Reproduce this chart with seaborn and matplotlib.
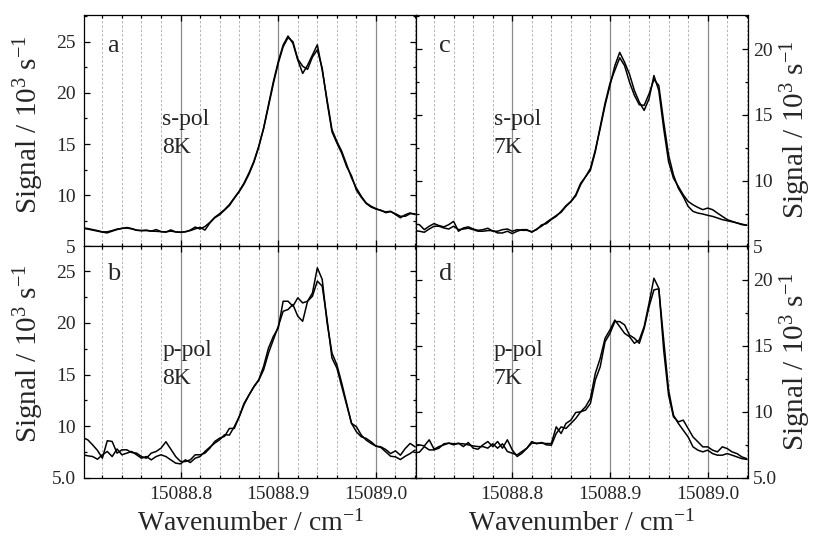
import numpy as np
import pandas as pd
import matplotlib
matplotlib.use("Agg")
import matplotlib.pyplot as plt
from matplotlib.ticker import MultipleLocator
import seaborn as sns

# wavenumber grid (cm-1)
wavenumber = [
    15088.700, 15088.705, 15088.710, 15088.715, 15088.720, 15088.725, 15088.730,
    15088.735, 15088.740, 15088.745, 15088.750, 15088.755, 15088.760, 15088.765,
    15088.770, 15088.775, 15088.780, 15088.785, 15088.790, 15088.795, 15088.800,
    15088.805, 15088.810, 15088.815, 15088.820, 15088.825, 15088.830, 15088.835,
    15088.840, 15088.845, 15088.850, 15088.855, 15088.860, 15088.865, 15088.870,
    15088.875, 15088.880, 15088.885, 15088.890, 15088.895, 15088.900, 15088.905,
    15088.910, 15088.915, 15088.920, 15088.925, 15088.930, 15088.935, 15088.940,
    15088.945, 15088.950, 15088.955, 15088.960, 15088.965, 15088.970, 15088.975,
    15088.980, 15088.985, 15088.990, 15088.995, 15089.000, 15089.005, 15089.010,
    15089.015, 15089.020, 15089.025, 15089.030, 15089.035, 15089.040,
]

# panel a: s-pol, 8K
a_scan1 = [6.82, 6.75, 6.65, 6.55, 6.43, 6.43, 6.55, 6.70, 6.75, 6.85, 6.75, 6.60, 6.55, 6.60,
           6.50, 6.65, 6.45, 6.43, 6.50, 6.43, 6.40, 6.43, 6.60, 6.90, 6.70, 6.95, 7.35, 7.85,
           8.20, 8.60, 9.10, 9.75, 10.40, 11.20, 12.18, 13.30, 14.77, 16.56, 18.83, 21.10, 23.05,
           24.67, 25.55, 24.84, 23.20, 21.90, 22.70, 23.70, 24.70, 22.20, 19.30, 16.40, 15.26,
           14.29, 13.00, 11.70, 10.70, 9.90, 9.25, 8.93, 8.70, 8.50, 8.38, 8.44, 8.12, 7.80,
           8.10, 8.28, 8.12]
a_scan2 = [6.78, 6.70, 6.60, 6.50, 6.40, 6.33, 6.50, 6.65, 6.78, 6.80, 6.72, 6.58, 6.55, 6.55,
           6.50, 6.48, 6.45, 6.40, 6.62, 6.42, 6.38, 6.45, 6.55, 6.72, 6.88, 6.60, 7.30, 7.80,
           8.10, 8.55, 9.00, 9.70, 10.35, 11.10, 12.05, 13.20, 14.70, 16.50, 18.70, 20.90, 22.90,
           24.50, 25.40, 25.00, 23.30, 22.60, 22.30, 23.50, 24.20, 22.40, 19.10, 16.20, 15.10,
           14.10, 12.80, 11.90, 10.50, 9.80, 9.20, 8.85, 8.65, 8.55, 8.30, 8.40, 8.20, 7.95,
           7.95, 8.20, 8.20]

# panel b: p-pol, 8K
b_scan1 = [8.90, 8.69, 8.20, 7.66, 6.91, 8.60, 8.53, 7.40, 7.72, 7.72, 7.46, 7.40, 7.07, 6.91,
           7.40, 7.56, 7.88, 8.50, 7.79, 7.07, 6.59, 6.59, 6.75, 7.24, 7.24, 7.40, 7.88, 8.53,
           8.85, 9.02, 9.79, 9.79, 10.93, 12.22, 13.03, 13.84, 14.49, 15.79, 17.57, 18.70, 19.51,
           22.10, 22.10, 21.62, 22.43, 21.94, 22.10, 22.90, 25.34, 24.21, 20.00, 17.08, 15.95,
           14.17, 12.22, 10.28, 9.96, 9.15, 8.66, 8.34, 8.08, 8.01, 7.75, 7.36, 7.62, 7.20,
           7.85, 8.34, 8.01]
b_scan2 = [7.25, 7.14, 7.07, 6.81, 7.24, 7.56, 7.07, 7.80, 7.24, 7.40, 7.56, 7.24, 6.91, 7.07,
           6.75, 7.07, 7.24, 7.07, 6.75, 6.43, 6.36, 6.75, 6.49, 6.91, 7.07, 7.56, 7.98, 8.37,
           8.69, 9.18, 9.15, 9.96, 10.90, 12.10, 13.00, 13.80, 14.45, 15.46, 17.08, 18.38, 19.67,
           21.13, 21.30, 21.78, 20.65, 20.16, 22.10, 22.59, 24.05, 23.56, 20.32, 16.60, 15.63,
           13.84, 12.06, 10.28, 9.47, 8.98, 8.82, 8.50, 8.08, 7.95, 7.53, 7.10, 7.04, 6.78,
           7.10, 7.36, 7.69]

# panel c: s-pol, 7K
c_scan1 = [6.70, 6.66, 6.28, 6.54, 6.74, 6.59, 6.49, 6.66, 6.91, 6.16, 6.41, 6.49, 6.33, 6.23,
           6.28, 6.39, 6.16, 6.16, 6.28, 6.33, 6.16, 6.28, 6.23, 6.23, 6.13, 6.28, 6.64, 6.74,
           7.05, 7.29, 7.67, 8.10, 8.43, 8.93, 9.81, 10.30, 10.94, 12.33, 13.97, 15.73, 17.24,
           18.75, 19.76, 19.00, 18.10, 16.86, 15.98, 15.35, 16.23, 18.00, 16.86, 13.97, 11.45,
           10.19, 9.56, 8.93, 8.43, 8.17, 7.97, 7.80, 7.92, 7.80, 7.54, 7.29, 7.04, 6.91,
           6.79, 6.66, 6.61]
c_scan2 = [6.20, 6.16, 6.08, 6.33, 6.54, 6.54, 6.41, 6.33, 6.54, 6.28, 6.33, 6.39, 6.28, 6.16,
           6.16, 6.21, 6.21, 6.03, 6.03, 6.16, 5.98, 6.16, 6.28, 6.28, 6.08, 6.33, 6.54, 6.84,
           7.10, 7.35, 7.60, 8.05, 8.40, 8.85, 9.70, 10.30, 10.80, 12.20, 14.10, 15.90, 17.40,
           18.40, 19.35, 18.75, 17.50, 16.50, 15.78, 15.73, 16.60, 17.70, 17.24, 14.47, 11.95,
           10.44, 9.43, 8.80, 8.05, 7.67, 7.54, 7.47, 7.37, 7.29, 7.17, 7.04, 6.96, 6.88,
           6.79, 6.70, 6.62]

# panel d: p-pol, 7K
d_scan1 = [7.50, 7.50, 7.42, 7.88, 7.17, 7.37, 7.50, 7.63, 7.50, 7.63, 7.37, 7.68, 7.25, 7.17,
           7.50, 7.75, 7.37, 7.75, 7.25, 7.88, 7.12, 6.62, 6.87, 7.25, 7.63, 7.63, 7.63, 7.60,
           7.60, 8.86, 8.36, 9.12, 9.37, 9.95, 10.00, 10.38, 11.01, 12.90, 14.04, 15.56, 16.19,
           16.94, 16.44, 15.93, 15.68, 15.18, 15.43, 16.44, 18.20, 20.10, 19.34, 14.67, 11.26,
           9.62, 9.24, 9.37, 8.74, 8.10, 7.73, 7.35, 7.35, 7.10, 6.97, 7.35, 7.22, 6.97,
           6.84, 6.59, 6.46]
d_scan2 = [6.90, 6.95, 7.37, 7.12, 7.12, 7.25, 7.58, 7.63, 7.58, 7.60, 7.58, 7.50, 7.42, 7.37,
           7.37, 7.25, 7.58, 7.25, 7.58, 7.00, 6.87, 6.74, 7.00, 7.25, 7.75, 7.58, 7.68, 7.50,
           7.47, 8.36, 8.86, 8.74, 9.12, 9.50, 10.00, 10.13, 10.63, 12.40, 13.40, 15.30, 15.93,
           16.82, 16.82, 16.57, 15.80, 15.56, 15.18, 16.31, 17.95, 19.22, 19.30, 15.43, 11.64,
           9.75, 9.12, 8.61, 8.10, 7.35, 7.10, 6.97, 7.10, 6.84, 6.72, 6.72, 6.84, 6.72,
           6.59, 6.46, 6.40]

panel_letters = ["a", "b", "c", "d"]
panel_pol = ["s-pol", "p-pol", "s-pol", "p-pol"]
panel_temp = ["8K", "8K", "7K", "7K"]

x_major = [15088.8, 15088.9, 15089.0]
x_major_labels = ["15088.8", "15088.9", "15089.0"]
left_yticks = [5, 10, 15, 20, 25]
right_yticks = [5, 10, 15, 20]
top_left_labels = ["5", "10", "15", "20", "25"]
bot_left_labels = ["5.0", "10", "15", "20", "25"]
top_right_labels = ["5", "10", "15", "20"]
bot_right_labels = ["5.0", "10", "15", "20"]

sns.set_style("ticks")
plt.rcParams["font.family"] = ["Liberation Serif", "DejaVu Serif"]
plt.rcParams["mathtext.fontset"] = "custom"
plt.rcParams["mathtext.rm"] = "Liberation Serif"
plt.rcParams["mathtext.it"] = "Liberation Serif:italic"

fig, axes = plt.subplots(2, 2, figsize=(8.13, 5.37), dpi=100)
fig.subplots_adjust(left=0.1037, right=0.9197, top=0.972, bottom=0.110, wspace=0, hspace=0)

# (scan1, scan2, panel index, ylim, yticks, ytick labels, ylabel y position)
panels = {
    (0, 0): (a_scan1, a_scan2, 0, (5, 27.6), left_yticks, top_left_labels, 0.526),
    (1, 0): (b_scan1, b_scan2, 1, (5, 27.4), left_yticks, bot_left_labels, 0.538),
    (0, 1): (c_scan1, c_scan2, 2, (5, 22.6), right_yticks, top_right_labels, 0.504),
    (1, 1): (d_scan1, d_scan2, 3, (5, 22.5), right_yticks, bot_right_labels, 0.502),
}

ylabel = "Signal / 10$^3$ s$^{-1}$"

for (r, c), (s1, s2, k, ylim, yt, ytl, ly) in panels.items():
    ax = axes[r, c]
    for scan in (s1, s2):
        sns.lineplot(x=wavenumber, y=scan, ax=ax, color="black", linewidth=1.1)

    ax.set_xlim(15088.7015, 15089.041)
    ax.set_ylim(*ylim)

    ax.set_xticks(x_major)
    ax.xaxis.set_minor_locator(MultipleLocator(0.02))
    ax.set_yticks(yt, ytl)
    ax.yaxis.set_minor_locator(MultipleLocator(2.5))

    ax.grid(True, which="major", axis="x", color="#8a8a8a", linewidth=0.9, linestyle="-")
    ax.grid(True, which="minor", axis="x", color="#b5b5b5", linewidth=0.7, linestyle=(0, (2.5, 2)))
    ax.set_axisbelow(True)

    ax.tick_params(which="both", direction="in", top=True, bottom=True, left=True, right=True,
                   labelsize=14, width=0.9, color="black")
    ax.tick_params(which="major", length=4)
    ax.tick_params(which="minor", length=2)
    ax.tick_params(axis="x", pad=6)

    if r == 0:
        ax.tick_params(axis="x", labelbottom=False)
        ax.set_xlabel("")
    else:
        ax.set_xticklabels(x_major_labels)
        ax.set_xlabel("Wavenumber / cm$^{-1}$", fontsize=20, va="baseline")
        ax.xaxis.set_label_coords(0.5, -0.228)

    if c == 0:
        ax.tick_params(axis="y", labelleft=True, labelright=False, pad=6)
        ax.set_ylabel(ylabel, fontsize=21, va="baseline")
        ax.yaxis.set_label_coords(-0.142, ly)
    else:
        ax.yaxis.set_label_position("right")
        ax.tick_params(axis="y", labelleft=False, labelright=True, pad=4)
        ax.set_ylabel(ylabel, fontsize=21, rotation=90, va="baseline")
        ax.yaxis.set_label_coords(1.170, ly)

    for sp in ax.spines.values():
        sp.set_linewidth(0.9)
        sp.set_color("black")

    ax.text(0.068, 0.842 if r == 0 else 0.854, panel_letters[k], transform=ax.transAxes,
            fontsize=19, va="baseline", ha="left")
    ax.text(0.235, 0.526, panel_pol[k], transform=ax.transAxes,
            fontsize=17, va="baseline", ha="left")
    ax.text(0.235, 0.404, panel_temp[k], transform=ax.transAxes,
            fontsize=17, va="baseline", ha="left")

fig.savefig("out.png", dpi=100)
